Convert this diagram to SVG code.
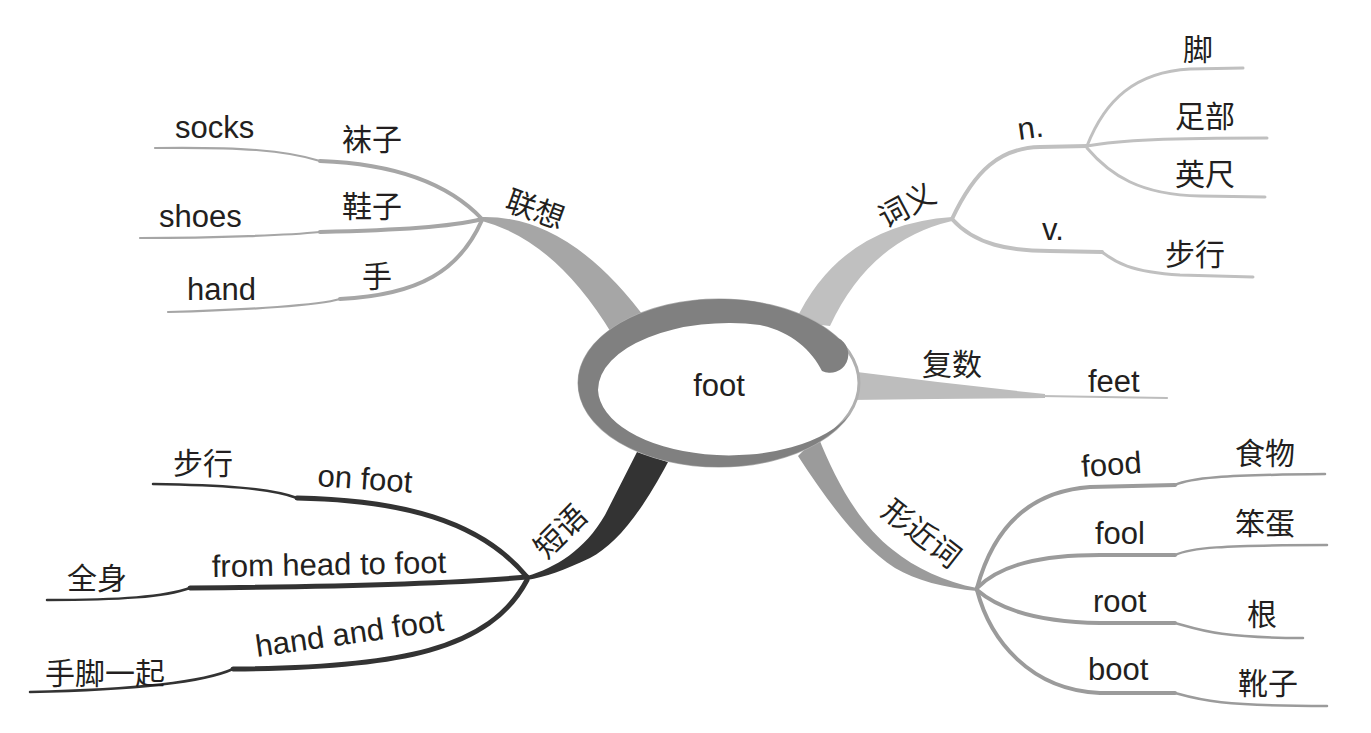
<svg xmlns="http://www.w3.org/2000/svg" width="1371" height="733" viewBox="0 0 1371 733">
<style>
.en{font-family:"Liberation Sans",Arial,sans-serif;font-size:31px;fill:#231f20}
.cn{font-family:"Noto Sans CJK SC","Noto Sans",sans-serif;font-size:30px;fill:#231f20}
.c1{fill:none;stroke:#a6a6a6;stroke-linecap:round}
.c2{fill:none;stroke:#c0c0c0;stroke-linecap:round}
.c3{fill:none;stroke:#333333;stroke-linecap:round}
.c4{fill:none;stroke:#9b9b9b;stroke-linecap:round}
.c5{fill:none;stroke:#bdbdbd;stroke-linecap:round}
.thin{stroke-width:2.2}
.thick{stroke-width:4}
.thick5{stroke-width:5}
</style>
<rect width="1371" height="733" fill="#ffffff"/>
<g id="connectors">
  <!-- main thick branches -->
  <path d="M482,217 Q570,215 648,322 L612,334 Q555,240 482,221 Z" fill="#a6a6a6"/>
  <path d="M795,322 Q840,225 952,217 L952,221 Q870,240 830,326 Z" fill="#c0c0c0"/>
  <path d="M850,372 L857,372 Q950,384 1045,394 L1045,398 Q950,399 850,400 Z" fill="#bdbdbd"/>
  <path d="M527,576 C555,568 585,550 605,515 L637,452 L668,462 C640,515 615,545 590,558 C565,570 545,577 527,580 Z" fill="#333333"/>
  <path d="M818,436 C835,480 860,525 893,550 C915,568 945,582 977,588 L977,591 C945,588 915,580 895,568 C860,545 830,505 798,456 Z" fill="#9b9b9b"/>
  <!-- 联想 sub-branches -->
  <path class="c1 thin" d="M155,148 C240,147 285,150 320,161"/>
  <path class="c1 thick" d="M320,161 C400,164 450,185 482,219"/>
  <path class="c1 thin" d="M140,238 C220,238 290,235 320,232"/>
  <path class="c1 thick" d="M320,232 C400,230 450,227 482,219"/>
  <path class="c1 thin" d="M168,312 C250,310 320,305 340,299"/>
  <path class="c1 thick" d="M340,299 C420,295 460,270 482,220"/>
  <!-- 词义 sub-branches -->
  <path class="c2 thick" d="M952,219 C975,170 1000,148 1040,147 L1087,146"/>
  <path class="c2" stroke-width="3" d="M1087,146 C1105,100 1135,72 1190,69 L1243,68"/>
  <path class="c2" stroke-width="3" d="M1087,146 C1120,140 1170,138 1267,138"/>
  <path class="c2" stroke-width="3" d="M1087,148 C1110,175 1140,195 1200,196 L1265,197"/>
  <path class="c2 thick" d="M952,219 C975,245 1010,251 1050,251 L1102,252"/>
  <path class="c2" stroke-width="3" d="M1102,252 C1115,262 1130,272 1180,275 L1253,277"/>
  <!-- 复数 sub-branch -->
  <path class="c5 thin" d="M1040,396 L1167,398"/>
  <!-- 短语 sub-branches -->
  <path class="c3" stroke-width="2.5" d="M153,484 C220,485 270,488 297,498"/>
  <path class="c3 thick5" d="M297,498 C400,500 480,520 527,577"/>
  <path class="c3" stroke-width="2.5" d="M47,600 C120,600 165,597 190,588"/>
  <path class="c3 thick5" d="M190,588 C300,587 440,585 527,577"/>
  <path class="c3" stroke-width="2.5" d="M30,692 C120,690 200,684 233,669"/>
  <path class="c3 thick5" d="M233,669 C400,668 490,650 527,580"/>
  <!-- 形近词 sub-branches -->
  <path class="c4 thick" d="M977,588 C990,540 1020,492 1090,487 L1175,485"/>
  <path class="c4" stroke-width="2.5" d="M1175,485 C1190,478 1220,475 1325,474"/>
  <path class="c4 thick" d="M977,588 C1000,565 1040,555 1100,555 L1175,555"/>
  <path class="c4" stroke-width="2.5" d="M1175,555 C1190,548 1220,545 1327,545"/>
  <path class="c4 thick" d="M977,590 C1000,610 1040,622 1100,623 L1175,623"/>
  <path class="c4" stroke-width="2.5" d="M1175,623 C1200,630 1220,638 1303,638"/>
  <path class="c4 thick" d="M977,590 C990,640 1030,690 1100,693 L1175,693"/>
  <path class="c4" stroke-width="2.5" d="M1175,693 C1200,700 1220,706 1327,706"/>
</g>
<g id="center">
  <ellipse cx="719" cy="383" rx="140" ry="83" fill="#ffffff" stroke="#b0b0b0" stroke-width="3"/>
  <path d="M838,338 A141,84 0 0 0 578,383 A141,84 0 0 0 850,414 A131,67 0 0 1 598,390 A131,67 0 0 1 760,325 C790,331 812,350 822,371 A17,17 0 0 0 838,338 Z" fill="#808080"/>
  <text class="en" x="719" y="396" font-size="30" text-anchor="middle">foot</text>
</g>
<g id="lianxiang">
  <text class="cn" transform="translate(535,210) rotate(20)" x="0" y="10" text-anchor="middle">联想</text>
</g>
<g id="socks"><text class="en" x="175" y="138">socks</text><text class="cn" x="342" y="150">袜子</text></g>
<g id="shoes"><text class="en" x="159" y="227">shoes</text><text class="cn" x="342" y="217">鞋子</text></g>
<g id="hand"><text class="en" x="187" y="300">hand</text><text class="cn" x="362" y="287">手</text></g>
<g id="ciyi">
  <text class="cn" transform="translate(907,206) rotate(-28)" x="0" y="10" text-anchor="middle">词义</text>
</g>
<g id="n"><text class="en" transform="translate(1019,140) rotate(-8)">n.</text></g>
<g id="jiao"><text class="cn" x="1183" y="60">脚</text></g>
<g id="zubu"><text class="cn" x="1175" y="127">足部</text></g>
<g id="yingchi"><text class="cn" x="1175" y="185">英尺</text></g>
<g id="v"><text class="en" x="1042" y="240">v.</text></g>
<g id="buxing1"><text class="cn" x="1165" y="265">步行</text></g>
<g id="fushu"><text class="cn" x="922" y="375">复数</text></g>
<g id="feet"><text class="en" x="1088" y="392" font-size="30">feet</text></g>
<g id="duanyu">
  <text class="cn" font-size="28" transform="translate(561,532) rotate(-45)" x="0" y="10" text-anchor="middle">短语</text>
</g>
<g id="onfoot"><text class="en" transform="translate(317,486) rotate(4)">on foot</text><text class="cn" x="173" y="474">步行</text></g>
<g id="fromhead"><text class="en" transform="translate(212,577) rotate(-1)">from head to foot</text><text class="cn" x="67" y="589">全身</text></g>
<g id="handandfoot"><text class="en" transform="translate(257,657) rotate(-8)">hand and foot</text><text class="cn" x="45" y="684">手脚一起</text></g>
<g id="xingjinci">
  <text class="cn" font-size="28" transform="translate(921,534) rotate(38)" x="0" y="10" text-anchor="middle">形近词</text>
</g>
<g id="food"><text class="en" transform="translate(1082,477) rotate(-4)">food</text><text class="cn" x="1235" y="464">食物</text></g>
<g id="fool"><text class="en" x="1095" y="544">fool</text><text class="cn" x="1235" y="534">笨蛋</text></g>
<g id="root"><text class="en" x="1093" y="612">root</text><text class="cn" x="1247" y="625">根</text></g>
<g id="boot"><text class="en" x="1088" y="680">boot</text><text class="cn" x="1238" y="694">靴子</text></g>
</svg>
